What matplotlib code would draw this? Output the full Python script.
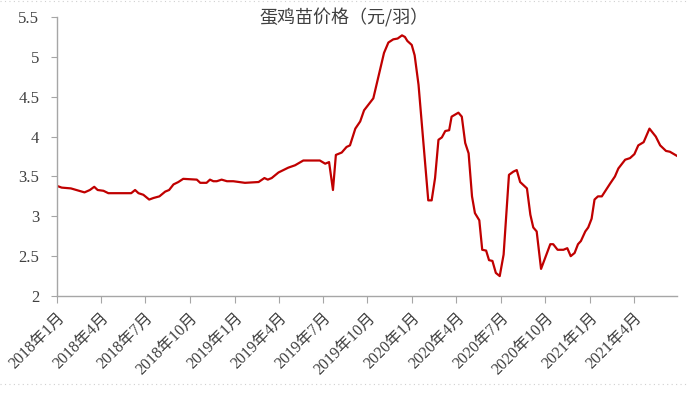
"""Egg-chick price, weekly, 2018-2021."""
import matplotlib
matplotlib.use('Agg')
import matplotlib.dates as mdates
import pandas as pd
from matplotlib import pyplot as plt
from matplotlib.lines import Line2D

title = '蛋鸡苗价格（元/羽）'

dates = [
    '2018-01-01', '2018-01-10', '2018-01-29', '2018-02-26', '2018-03-09',
    '2018-03-18', '2018-03-25', '2018-04-06', '2018-04-16', '2018-06-02',
    '2018-06-10', '2018-06-17', '2018-06-27', '2018-07-09', '2018-07-18',
    '2018-07-30', '2018-08-11', '2018-08-19', '2018-08-28', '2018-09-07',
    '2018-09-17', '2018-10-15', '2018-10-22', '2018-11-04', '2018-11-11',
    '2018-11-18', '2018-11-25', '2018-12-05', '2018-12-16', '2018-12-29',
    '2019-01-22', '2019-02-19', '2019-03-03', '2019-03-10', '2019-03-18',
    '2019-04-01', '2019-04-21', '2019-05-05', '2019-05-22', '2019-06-25',
    '2019-07-06', '2019-07-14', '2019-07-22', '2019-07-28', '2019-08-09',
    '2019-08-19', '2019-08-26', '2019-09-06', '2019-09-16', '2019-09-24',
    '2019-10-13', '2019-11-04', '2019-11-13', '2019-11-23', '2019-12-02',
    '2019-12-11', '2019-12-17', '2019-12-22', '2019-12-31', '2020-01-06',
    '2020-01-14', '2020-02-03', '2020-02-10', '2020-02-17', '2020-02-24',
    '2020-03-02', '2020-03-09', '2020-03-17', '2020-03-22', '2020-04-05',
    '2020-04-12', '2020-04-19', '2020-04-26', '2020-05-03', '2020-05-09',
    '2020-05-18', '2020-05-24', '2020-06-01', '2020-06-07', '2020-06-14',
    '2020-06-21', '2020-06-29', '2020-07-07', '2020-07-18', '2020-07-27',
    '2020-08-03', '2020-08-10', '2020-08-17', '2020-08-24', '2020-08-31',
    '2020-09-06', '2020-09-13', '2020-09-22', '2020-10-11', '2020-10-17',
    '2020-10-26', '2020-11-07', '2020-11-15', '2020-11-22', '2020-11-30',
    '2020-12-07', '2020-12-13', '2020-12-22', '2020-12-28', '2021-01-04',
    '2021-01-10', '2021-01-17', '2021-01-25', '2021-02-11', '2021-02-21',
    '2021-02-28', '2021-03-14', '2021-03-24', '2021-04-02', '2021-04-10',
    '2021-04-21', '2021-05-03', '2021-05-16', '2021-05-25', '2021-06-06',
    '2021-06-14', '2021-06-28',
]

prices = [
    3.38, 3.36, 3.35, 3.30, 3.33,
    3.37, 3.33, 3.32, 3.29, 3.29,
    3.33, 3.29, 3.27, 3.21, 3.23,
    3.25, 3.31, 3.33, 3.40, 3.43,
    3.47, 3.46, 3.42, 3.42, 3.46,
    3.44, 3.44, 3.46, 3.44, 3.44,
    3.42, 3.43, 3.48, 3.46, 3.48,
    3.55, 3.61, 3.64, 3.70, 3.70,
    3.66, 3.68, 3.33, 3.77, 3.80,
    3.87, 3.89, 4.10, 4.19, 4.33,
    4.48, 5.05, 5.18, 5.22, 5.23,
    5.27, 5.25, 5.20, 5.15, 5.02,
    4.65, 3.20, 3.20, 3.48, 3.96,
    3.99, 4.07, 4.08, 4.25, 4.30,
    4.25, 3.92, 3.79, 3.25, 3.04,
    2.95, 2.58, 2.57, 2.45, 2.44,
    2.29, 2.25, 2.52, 3.52, 3.56,
    3.58, 3.43, 3.39, 3.35, 3.02,
    2.86, 2.81, 2.34, 2.65, 2.65,
    2.58, 2.58, 2.60, 2.50, 2.54,
    2.65, 2.69, 2.81, 2.86, 2.97,
    3.21, 3.25, 3.25, 3.41, 3.50,
    3.60, 3.71, 3.73, 3.78, 3.89,
    3.93, 4.10, 4.00, 3.89, 3.82,
    3.81, 3.76,
]

y_ticks = [2, 2.5, 3, 3.5, 4, 4.5, 5, 5.5]
y_tick_labels = ['2', '2.5', '3', '3.5', '4', '4.5', '5', '5.5']


def main():
    x = pd.to_datetime(dates)
    label_font = ['Liberation Serif', 'Noto Sans CJK SC']
    text_color = '#404040'
    axis_color = '#A6A6A6'

    fig = plt.figure(figsize=(6.87, 3.96), dpi=100)
    ax = fig.add_axes([0.0834, 0.2525, 0.9016, 0.7045])

    ax.plot(x, prices, color='#C00000', linewidth=1.6)

    ax.set_ylim(2, 5.5)
    ax.set_xlim(x[0], x[-1])
    ax.set_yticks(y_ticks)
    ax.set_yticklabels(y_tick_labels, family=label_font, fontsize=12,
                       color=text_color)

    ax.xaxis.set_major_locator(mdates.MonthLocator(bymonth=[1, 4, 7, 10]))
    ax.xaxis.set_major_formatter(
        plt.FuncFormatter(lambda v, _: '{}年{}月'.format(
            mdates.num2date(v).year, mdates.num2date(v).month)))
    ax.tick_params(axis='x', labelrotation=45, labelsize=11.5,
                   labelcolor=text_color, length=5, color=axis_color,
                   pad=5)
    ax.tick_params(axis='y', length=4, color=axis_color, pad=9)
    for lbl in ax.get_xticklabels():
        lbl.set_ha('right')
        lbl.set_va('top')
        lbl.set_rotation_mode('anchor')
        lbl.set_family(label_font)

    for side in ['top', 'right']:
        ax.spines[side].set_visible(False)
    for side in ['left', 'bottom']:
        ax.spines[side].set_color(axis_color)
        ax.spines[side].set_linewidth(1.0)

    fig.text(0.5, 0.955, title, ha='center', va='center', fontsize=13,
             family=['Noto Sans CJK SC', 'DejaVu Sans'], color=text_color)

    # dotted chart-area border lines, top and bottom
    for yy in [0.997, 0.03]:
        fig.add_artist(Line2D([0, 1], [yy, yy], transform=fig.transFigure,
                              color='#D0D0D0', linewidth=0.8,
                              linestyle=(0, (1, 3))))

    fig.savefig('out.png', dpi=100)


if __name__ == '__main__':
    main()
